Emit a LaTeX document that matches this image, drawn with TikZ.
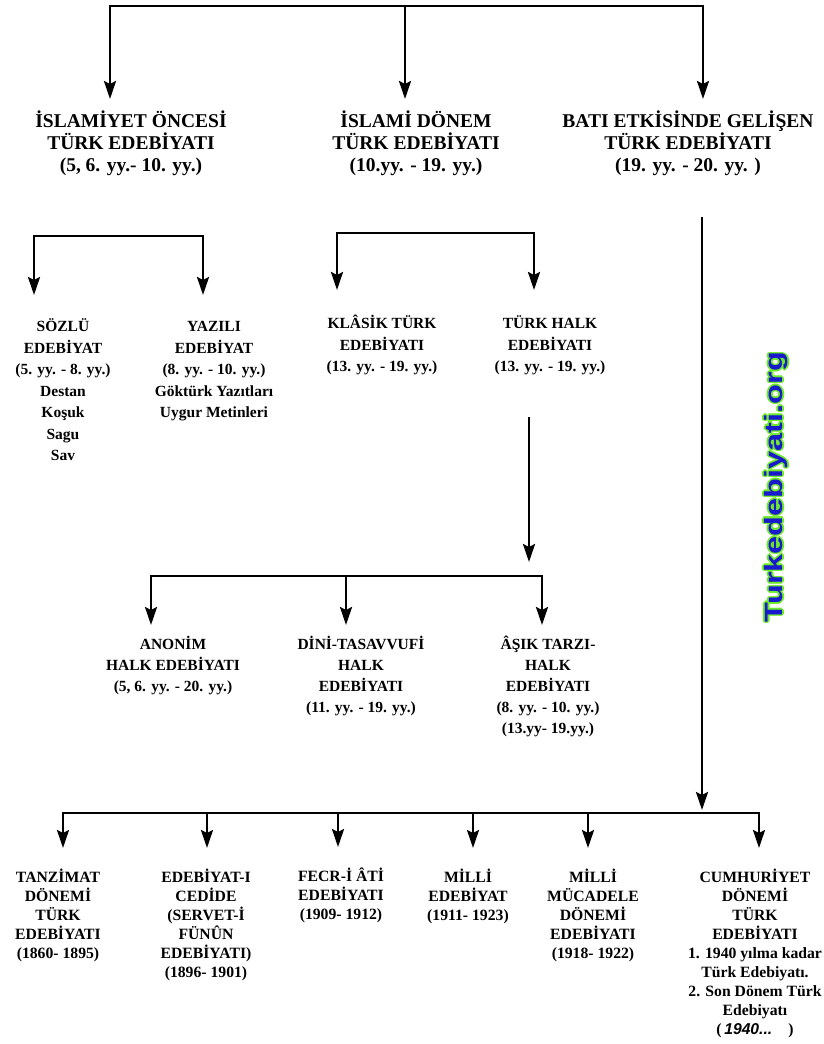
\documentclass[tikz,border=0pt]{standalone}
\usepackage{fontspec}
\setmainfont{Liberation Serif}
\newfontfamily\wmfont{Liberation Sans}
\usetikzlibrary{arrows.meta}

\definecolor{wmgreen}{RGB}{110,235,40}
\definecolor{wmblue}{RGB}{25,25,205}

\begin{document}
\begin{tikzpicture}[x=1pt, y=-1pt,
        bar/.style={line width=2.5pt, line cap=rect},
        arr/.style={line width=2.5pt, -{Stealth[length=18pt, width=12pt, inset=3pt]}},
        head/.style={font=\bfseries\fontsize{19.5}{22}\selectfont, align=center, anchor=north, inner sep=0pt},
        sub/.style={font=\bfseries\fontsize{15.5}{21.5}\selectfont, align=center, anchor=north, inner sep=0pt},
        halkrow/.style={font=\bfseries\fontsize{15.5}{21}\selectfont, align=center, anchor=north, inner sep=0pt},
        low/.style={font=\bfseries\fontsize{15.7}{19}\selectfont, align=center, anchor=north, inner sep=0pt},
        wm/.style={font=\wmfont\bfseries\fontsize{25}{25}\selectfont, rotate=90, inner sep=0pt}]
        \useasboundingbox (0,0) rectangle (824,1044);

        % main periods
        \node[head] (oncesi) at (131,111) {İSLAMİYET ÖNCESİ\\TÜRK EDEBİYATI\\(5, 6. yy.- 10. yy.)};
        \node[head] (islami) at (416,111) {İSLAMİ DÖNEM\\TÜRK EDEBİYATI\\(10.yy. - 19. yy.)};
        \node[head] (bati) at (688,111) {BATI ETKİSİNDE GELİŞEN\\TÜRK EDEBİYATI\\(19. yy. - 20. yy. )};

        \coordinate (t1) at (110,6);
        \coordinate (t2) at (405,6);
        \coordinate (t3) at (703,6);
        \draw[bar] (t1) -- (t3);
        \draw[arr, shorten >=12pt] (t1) -- (t1 |- oncesi.north);
        \draw[arr, shorten >=12pt] (t2) -- (t2 |- islami.north);
        \draw[arr, shorten >=12pt] (t3) -- (t3 |- bati.north);

        % before islam
        \node[sub] (sozlu) at (63,318.5) {SÖZLÜ\\EDEBİYAT\\(5. yy. - 8. yy.)\\Destan\\Koşuk\\Sagu\\Sav};
        \node[sub] (yazili) at (214,321.5) {YAZILI\\EDEBİYAT\\(8. yy. - 10. yy.)\\Göktürk Yazıtları\\Uygur Metinleri};

        \coordinate (s1) at (34,236);
        \coordinate (s2) at (203,236);
        \draw[bar] (s1) -- (s2);
        \draw[arr, shorten >=23.5pt] (s1) -- (s1 |- sozlu.north);
        \draw[arr, shorten >=26.5pt] (s2) -- (s2 |- yazili.north);

        % islamic period
        \node[sub] (klasik) at (382,315) {KLÂSİK TÜRK\\EDEBİYATI\\(13. yy. - 19. yy.)};
        \node[sub] (halk) at (550,315.5) {TÜRK HALK\\EDEBİYATI\\(13. yy. - 19. yy.)};

        \coordinate (m1) at (337,233);
        \coordinate (m2) at (534,233);
        \draw[bar] (m1) -- (m2);
        \draw[arr, shorten >=25pt] (m1) -- (m1 |- klasik.north);
        \draw[arr, shorten >=25.5pt] (m2) -- (m2 |- halk.north);

        % folk literature
        \node[halkrow] (anonim) at (173,636.5) {ANONİM\\HALK EDEBİYATI\\(5, 6. yy. - 20. yy.)};
        \node[halkrow] (dini) at (361,636.5) {DİNİ-TASAVVUFİ\\HALK\\EDEBİYATI\\(11. yy. - 19. yy.)};
        \node[halkrow] (asik) at (548,635.5) {ÂŞIK TARZI-\\HALK\\EDEBİYATI\\(8. yy. - 10. yy.)\\(13.yy- 19.yy.)};

        \coordinate (hk) at (529,417);
        \coordinate (k1) at (151,576);
        \coordinate (k2) at (346,576);
        \coordinate (k3) at (542,576);
        \draw[arr, shorten >=14pt] (hk) -- (hk |- k1);
        \draw[bar] (k1) -- (k3);
        \draw[arr, shorten >=11.5pt] (k1) -- (k1 |- anonim.north);
        \draw[arr, shorten >=11.5pt] (k2) -- (k2 |- dini.north);
        \draw[arr, shorten >=10.5pt] (k3) -- (k3 |- asik.north);

        % western influence
        \node[low] (tanzimat) at (58,868.5) {TANZİMAT\\DÖNEMİ\\TÜRK\\EDEBİYATI\\(1860- 1895)};
        \node[low] (cedide) at (206,868.5) {EDEBİYAT-I\\CEDİDE\\(SERVET-İ\\FÜNÛN\\EDEBİYATI)\\(1896- 1901)};
        \node[low] (fecr) at (341,867.5) {FECR-İ ÂTİ\\EDEBİYATI\\(1909- 1912)};
        \node[low] (milli) at (468,868.5) {MİLLİ\\EDEBİYAT\\(1911- 1923)};
        \node[low] (mucadele) at (593,868.5) {MİLLİ\\MÜCADELE\\DÖNEMİ\\EDEBİYATI\\(1918- 1922)};
        \node[low] (cumhuriyet) at (755,868.5) {CUMHURİYET\\DÖNEMİ\\TÜRK\\EDEBİYATI\\1. 1940 yılma kadar\\Türk Edebiyatı.\\2. Son Dönem Türk\\Edebiyatı\\(\,{\wmfont\itshape 1940...}\hspace{16pt})};

        \coordinate (bt) at (702,217);
        \coordinate (b1) at (63,813);
        \coordinate (b2) at (207,813);
        \coordinate (b3) at (338,813);
        \coordinate (b4) at (473,813);
        \coordinate (b5) at (588,813);
        \coordinate (b6) at (759,813);
        \draw[arr, shorten >=3pt] (bt) -- (bt |- b1);
        \draw[bar] (b1) -- (b6);
        \foreach \i/\n in {1/tanzimat, 2/cedide, 3/fecr, 4/milli, 5/mucadele, 6/cumhuriyet}
            \draw[arr, shorten >=20.5pt] (b\i) -- (b\i |- \n.north);

        % site mark
        \foreach \dx/\dy in {-1.6/0, 1.6/0, 0/-1.6, 0/1.6, -1.1/-1.1, 1.1/1.1, -1.1/1.1, 1.1/-1.1}
            \node[wm, text=wmgreen] at (776+\dx,487+\dy) {\scalebox{1.3}[1]{Turkedebiyati.org}};
        \node[wm, text=wmblue] (site) at (776,487) {\scalebox{1.3}[1]{Turkedebiyati.org}};
    \end{tikzpicture}
\end{document}
